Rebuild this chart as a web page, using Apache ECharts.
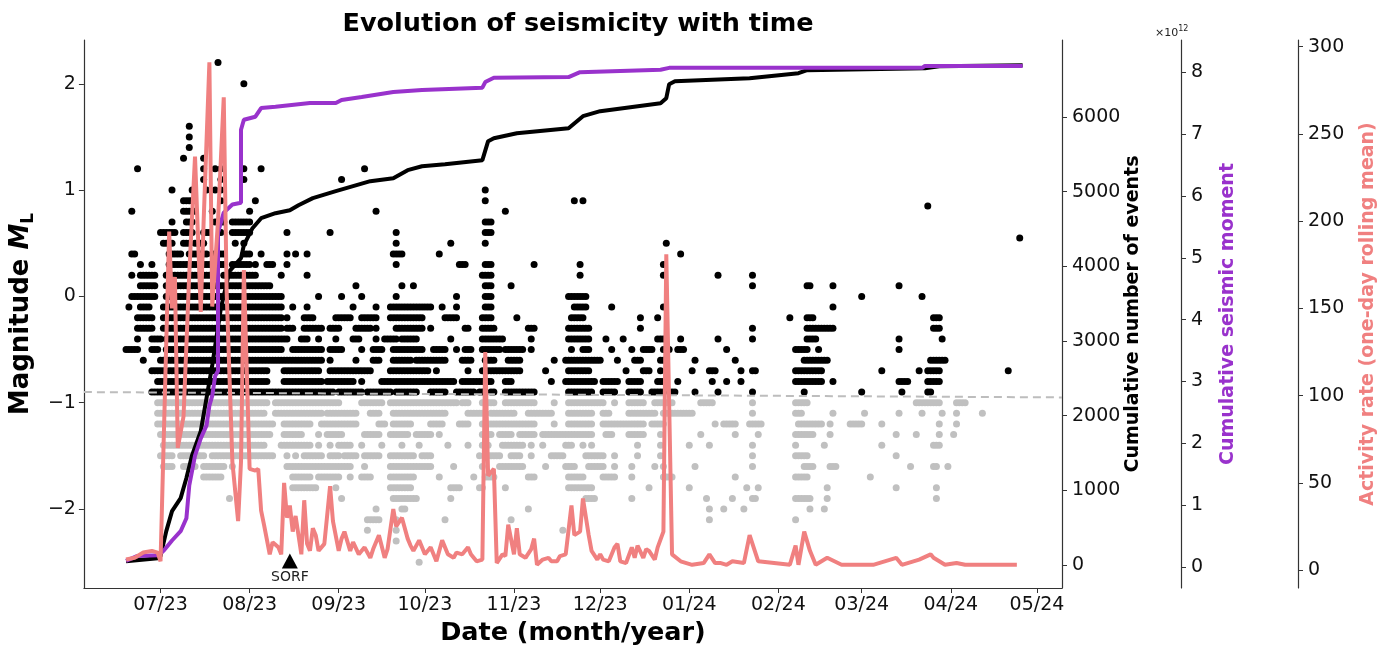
<!DOCTYPE html>
<html>
<head>
<meta charset="utf-8">
<title>Evolution of seismicity with time</title>
<script src="https://cdn.jsdelivr.net/npm/echarts@6/dist/echarts.min.js"></script>
<style>
  html, body { margin: 0; padding: 0; background: #fff; }
  #chart { width: 1392px; height: 651px; }
</style>
</head>
<body>
<div id="chart"></div>
<script>
// axis limits and ticks
var X_MIN = '2023-06-04T08:00:00Z';
var X_MAX = '2024-05-09T17:00:00Z';
var monthTicks = ['2023-07-01', '2023-08-01', '2023-09-01', '2023-10-01', '2023-11-01', '2023-12-01',
  '2024-01-01', '2024-02-01', '2024-03-01', '2024-04-01', '2024-05-01'];
var magTicks = [-2, -1, 0, 1, 2];
var countTicks = [0, 1000, 2000, 3000, 4000, 5000, 6000];
var momentTicks = [0, 1, 2, 3, 4, 5, 6, 7, 8];
var rateTicks = [0, 50, 100, 150, 200, 250, 300];

// events: [magnitude, first day, last day] runs of daily dots, days counted from DAY0
var DAY0 = '2023-07-01';
var aboveRuns = [
  [2.2,20,20],[2.0,29,29],[1.6,10,10],[1.5,10,10],[1.4,10,10],[1.3,8,8],[1.3,15,15],
  [1.2,-8,-8],[1.2,15,15],[1.2,19,19],[1.2,21,21],[1.2,29,29],[1.2,35,35],[1.2,71,71],
  [1.1,15,15],[1.1,21,21],[1.1,29,29],[1.1,63,63],
  [1.0,4,4],[1.0,11,11],[1.0,16,16],[1.0,19,19],[1.0,21,21],[1.0,113,113],
  [0.9,8,11],[0.9,21,21],[0.9,33,33],[0.9,113,113],[0.9,144,144],[0.9,147,147],[0.85,267,267],
  [0.8,-10,-10],[0.8,8,12],[0.8,18,18],[0.8,31,31],[0.8,75,75],[0.8,120,120],
  [0.7,4,4],[0.7,9,11],[0.7,19,22],[0.7,25,31],[0.7,113,115],
  [0.6,0,5],[0.6,8,11],[0.6,15,17],[0.6,21,21],[0.6,25,31],[0.6,44,44],[0.6,59,59],[0.6,82,82],[0.6,113,115],
  [0.55,299,299],
  [0.5,1,4],[0.5,8,10],[0.5,12,15],[0.5,26,26],[0.5,29,29],[0.5,82,82],[0.5,101,101],[0.5,113,113],[0.5,176,176],
  [0.4,-10,-9],[0.4,3,7],[0.4,10,16],[0.4,18,22],[0.4,29,31],[0.4,35,35],[0.4,44,44],[0.4,47,47],[0.4,51,51],
  [0.4,81,84],[0.4,97,97],[0.4,181,181],
  [0.3,-7,-7],[0.3,-3,-3],[0.3,3,17],[0.3,19,22],[0.3,25,31],[0.3,33,33],[0.3,37,39],[0.3,44,44],[0.3,82,82],
  [0.3,104,106],[0.3,113,115],[0.3,130,130],[0.3,146,146],[0.3,175,175],
  [0.2,-10,-10],[0.2,-7,-2],[0.2,2,19],[0.2,22,33],[0.2,42,42],[0.2,51,51],[0.2,112,115],[0.2,146,146],
  [0.2,175,175],[0.2,194,194],[0.2,206,206],
  [0.1,-7,-2],[0.1,2,38],[0.1,68,68],[0.1,84,84],[0.1,88,88],[0.1,113,115],[0.1,122,122],[0.1,206,206],
  [0.1,225,226],[0.1,234,234],[0.1,257,257],
  [0.0,-10,-2],[0.0,2,42],[0.0,55,55],[0.0,63,63],[0.0,70,70],[0.0,82,82],[0.0,103,103],[0.0,113,115],
  [0.0,142,148],[0.0,244,244],[0.0,265,265],
  [-0.1,-11,-11],[-0.1,-7,-4],[-0.1,1,42],[-0.1,46,46],[-0.1,51,51],[-0.1,67,67],[-0.1,75,75],[-0.1,80,94],
  [-0.1,98,98],[-0.1,103,103],[-0.1,113,115],[-0.1,144,148],[-0.1,157,157],[-0.1,175,175],[-0.1,234,234],
  [-0.2,-8,-3],[-0.2,1,42],[-0.2,44,44],[-0.2,50,53],[-0.2,61,66],[-0.2,70,75],[-0.2,80,91],[-0.2,99,103],
  [-0.2,112,115],[-0.2,124,124],[-0.2,143,147],[-0.2,167,167],[-0.2,173,173],[-0.2,219,219],[-0.2,225,227],[-0.2,269,271],
  [-0.3,-8,-3],[-0.3,1,42],[-0.3,44,46],[-0.3,50,56],[-0.3,59,62],[-0.3,68,73],[-0.3,75,75],[-0.3,82,91],[-0.3,94,94],
  [-0.3,106,107],[-0.3,112,116],[-0.3,128,130],[-0.3,142,149],[-0.3,167,167],[-0.3,206,206],[-0.3,225,234],[-0.3,269,271],
  [-0.4,-8,-8],[-0.4,-3,0],[-0.4,2,44],[-0.4,49,51],[-0.4,55,55],[-0.4,61,61],[-0.4,67,69],[-0.4,75,75],[-0.4,78,82],
  [-0.4,84,89],[-0.4,101,101],[-0.4,112,119],[-0.4,129,129],[-0.4,142,149],[-0.4,155,155],[-0.4,161,161],[-0.4,173,175],
  [-0.4,181,181],[-0.4,194,194],[-0.4,206,206],[-0.4,225,228],[-0.4,257,257],[-0.4,272,272],
  [-0.5,-12,-8],[-0.5,-3,-1],[-0.5,2,42],[-0.5,46,56],[-0.5,59,63],[-0.5,70,70],[-0.5,74,77],[-0.5,81,91],[-0.5,95,99],
  [-0.5,103,103],[-0.5,106,108],[-0.5,112,118],[-0.5,120,126],[-0.5,129,129],[-0.5,143,143],[-0.5,147,149],[-0.5,157,157],
  [-0.5,164,164],[-0.5,168,171],[-0.5,175,177],[-0.5,180,182],[-0.5,197,197],[-0.5,221,225],[-0.5,229,229],[-0.5,257,257],
  [-0.6,-6,-6],[-0.6,0,56],[-0.6,59,59],[-0.6,68,68],[-0.6,74,76],[-0.6,81,87],[-0.6,89,99],[-0.6,105,108],[-0.6,113,116],
  [-0.6,121,125],[-0.6,137,137],[-0.6,141,153],[-0.6,159,159],[-0.6,165,167],[-0.6,174,175],[-0.6,186,186],[-0.6,200,200],
  [-0.6,224,232],[-0.6,268,273],
  [-0.7,-3,1],[-0.7,3,37],[-0.7,43,55],[-0.7,59,73],[-0.7,80,93],[-0.7,96,96],[-0.7,107,107],[-0.7,112,125],[-0.7,134,134],
  [-0.7,142,149],[-0.7,162,162],[-0.7,168,170],[-0.7,174,174],[-0.7,185,185],[-0.7,191,193],[-0.7,202,202],[-0.7,206,207],
  [-0.7,221,230],[-0.7,251,251],[-0.7,264,264],[-0.7,267,271],[-0.7,295,295],
  [-0.8,-1,37],[-0.8,43,56],[-0.8,58,67],[-0.8,70,70],[-0.8,77,102],[-0.8,105,112],[-0.8,114,115],[-0.8,120,122],
  [-0.8,136,136],[-0.8,141,151],[-0.8,154,159],[-0.8,163,167],[-0.8,173,175],[-0.8,180,180],[-0.8,192,192],[-0.8,197,197],
  [-0.8,202,202],[-0.8,221,230],[-0.8,234,234],[-0.8,257,260],[-0.8,267,271],
  [-0.9,-3,60],[-0.9,62,70],[-0.9,72,80],[-0.9,82,89],[-0.9,94,99],[-0.9,103,109],[-0.9,111,113],[-0.9,115,116],
  [-0.9,120,130],[-0.9,142,150],[-0.9,154,158],[-0.9,163,167],[-0.9,171,175],[-0.9,178,179],[-0.9,186,186],[-0.9,194,194],
  [-0.9,206,206],[-0.9,224,224],[-0.9,244,244],[-0.9,258,258],[-0.9,267,268]
];
var belowRuns = [
  [-1.0,-1,37],[-1.0,40,62],[-1.0,70,77],[-1.0,80,103],[-1.0,105,107],[-1.0,112,116],[-1.0,120,130],[-1.0,137,137],
  [-1.0,142,154],[-1.0,158,158],[-1.0,163,168],[-1.0,172,178],[-1.0,188,192],[-1.0,206,206],[-1.0,221,225],[-1.0,263,271],[-1.0,277,280],
  [-1.1,-1,36],[-1.1,40,56],[-1.1,58,68],[-1.1,73,76],[-1.1,81,99],[-1.1,107,112],[-1.1,115,123],[-1.1,128,136],[-1.1,142,150],
  [-1.1,154,156],[-1.1,163,172],[-1.1,175,185],[-1.1,206,206],[-1.1,221,223],[-1.1,234,234],[-1.1,245,245],[-1.1,257,257],
  [-1.1,265,265],[-1.1,272,272],[-1.1,277,277],[-1.1,286,286],
  [-1.2,-1,39],[-1.2,43,52],[-1.2,56,68],[-1.2,76,78],[-1.2,81,87],[-1.2,94,98],[-1.2,104,107],[-1.2,112,130],[-1.2,137,137],
  [-1.2,142,150],[-1.2,154,168],[-1.2,171,175],[-1.2,193,193],[-1.2,196,200],[-1.2,205,209],[-1.2,222,230],[-1.2,233,233],
  [-1.2,240,244],[-1.2,251,251],[-1.2,271,271],[-1.2,277,277],
  [-1.3,0,38],[-1.3,43,49],[-1.3,55,55],[-1.3,58,63],[-1.3,71,76],[-1.3,80,86],[-1.3,89,94],[-1.3,97,97],[-1.3,112,115],
  [-1.3,118,122],[-1.3,125,130],[-1.3,133,150],[-1.3,155,157],[-1.3,163,168],[-1.3,174,174],[-1.3,188,188],[-1.3,200,200],
  [-1.3,208,208],[-1.3,221,227],[-1.3,233,233],[-1.3,256,256],[-1.3,263,263],[-1.3,271,271],[-1.3,276,276],
  [-1.4,1,36],[-1.4,42,52],[-1.4,55,55],[-1.4,59,59],[-1.4,62,66],[-1.4,70,70],[-1.4,77,77],[-1.4,84,84],[-1.4,90,90],
  [-1.4,100,100],[-1.4,107,107],[-1.4,112,114],[-1.4,119,126],[-1.4,129,129],[-1.4,133,133],[-1.4,141,143],[-1.4,147,147],
  [-1.4,150,150],[-1.4,166,166],[-1.4,174,174],[-1.4,184,184],[-1.4,191,191],[-1.4,206,206],[-1.4,221,221],[-1.4,231,231],
  [-1.4,251,251],[-1.4,269,271],
  [-1.5,0,4],[-1.5,7,15],[-1.5,18,39],[-1.5,44,44],[-1.5,47,47],[-1.5,50,56],[-1.5,59,62],[-1.5,64,68],[-1.5,71,76],
  [-1.5,80,88],[-1.5,91,94],[-1.5,111,111],[-1.5,114,118],[-1.5,122,125],[-1.5,129,129],[-1.5,136,140],[-1.5,148,154],
  [-1.5,158,158],[-1.5,166,166],[-1.5,174,174],[-1.5,206,206],[-1.5,221,225],[-1.5,256,256],
  [-1.6,1,4],[-1.6,8,12],[-1.6,15,22],[-1.6,25,25],[-1.6,44,66],[-1.6,71,71],[-1.6,80,94],[-1.6,102,102],[-1.6,112,112],
  [-1.6,118,126],[-1.6,134,134],[-1.6,141,144],[-1.6,149,154],[-1.6,158,158],[-1.6,164,164],[-1.6,172,172],[-1.6,175,175],
  [-1.6,186,186],[-1.6,206,206],[-1.6,224,227],[-1.6,233,235],[-1.6,261,261],[-1.6,269,270],[-1.6,274,274],
  [-1.7,15,21],[-1.7,46,52],[-1.7,55,62],[-1.7,66,66],[-1.7,70,73],[-1.7,80,88],[-1.7,97,97],[-1.7,109,109],[-1.7,113,116],
  [-1.7,128,130],[-1.7,142,147],[-1.7,154,158],[-1.7,164,164],[-1.7,175,178],[-1.7,200,200],[-1.7,221,225],[-1.7,247,247],
  [-1.8,46,54],[-1.8,61,61],[-1.8,80,87],[-1.8,101,104],[-1.8,111,112],[-1.8,120,120],[-1.8,142,150],[-1.8,170,170],
  [-1.8,184,184],[-1.8,204,204],[-1.8,208,208],[-1.8,232,232],[-1.8,256,256],[-1.8,270,270],
  [-1.9,24,24],[-1.9,63,63],[-1.9,81,89],[-1.9,101,101],[-1.9,148,151],[-1.9,164,164],[-1.9,190,190],[-1.9,199,199],
  [-1.9,206,207],[-1.9,221,226],[-1.9,232,232],[-1.9,270,270],
  [-2.0,75,75],[-2.0,84,85],[-2.0,128,128],[-2.0,191,191],[-2.0,196,196],[-2.0,203,203],[-2.0,226,226],[-2.0,231,231],
  [-2.1,72,76],[-2.1,82,82],[-2.1,99,99],[-2.1,122,122],[-2.1,191,191],[-2.1,221,221],
  [-2.2,72,72],[-2.2,82,82],[-2.2,140,140],
  [-2.3,82,82],
  [-2.5,90,90]
];

// completeness magnitude (dashed)
var completenessLine = [[X_MIN, -0.90], [X_MAX, -0.95]];

// cumulative number of events
var cumCount = [
  ['2023-06-19',50],['2023-06-30',90],['2023-07-01',120],['2023-07-03',455],['2023-07-05',723],['2023-07-08',897],
  ['2023-07-10',1165],['2023-07-12',1473],['2023-07-15',1794],['2023-07-17',2236],['2023-07-19',2677],['2023-07-22',3440],
  ['2023-07-25',3936],['2023-07-29',4110],['2023-07-30',4284],['2023-08-02',4511],['2023-08-05',4645],['2023-08-10',4712],
  ['2023-08-15',4752],['2023-08-18',4819],['2023-08-23',4913],['2023-08-31',5007],['2023-09-12',5141],['2023-09-20',5181],
  ['2023-09-25',5288],['2023-09-30',5341],['2023-10-08',5368],['2023-10-21',5422],['2023-10-23',5676],['2023-10-25',5716],
  ['2023-11-02',5783],['2023-11-20',5850],['2023-11-25',6011],['2023-12-01',6078],['2023-12-22',6185],['2023-12-24',6252],
  ['2023-12-25',6439],['2023-12-27',6479],['2024-01-22',6519],['2024-02-08',6586],['2024-02-11',6627],['2024-03-23',6653],
  ['2024-03-28',6680],['2024-04-26',6693]
];

// cumulative seismic moment (x 10^12)
var cumMoment = [
  ['2023-06-19',0.10],['2023-06-23',0.18],['2023-06-30',0.19],['2023-07-02',0.26],['2023-07-05',0.43],['2023-07-08',0.58],
  ['2023-07-10',0.79],['2023-07-11',1.32],['2023-07-13',1.80],['2023-07-15',2.08],['2023-07-17',2.29],['2023-07-18',2.61],
  ['2023-07-19',2.77],['2023-07-20',3.09],['2023-07-21',3.17],['2023-07-21',5.41],['2023-07-23',5.73],['2023-07-26',5.86],
  ['2023-07-29',5.89],['2023-07-29',7.07],['2023-07-30',7.23],['2023-08-03',7.28],['2023-08-05',7.42],['2023-08-10',7.44],
  ['2023-08-22',7.50],['2023-08-31',7.50],['2023-09-02',7.55],['2023-09-09',7.60],['2023-09-20',7.68],['2023-09-30',7.71],
  ['2023-10-21',7.75],['2023-10-22',7.84],['2023-10-25',7.91],['2023-11-20',7.92],['2023-11-24',8.00],['2023-12-22',8.04],
  ['2023-12-25',8.07],['2024-03-22',8.07],['2024-03-23',8.10],['2024-04-26',8.10]
];

// activity rate (one-day rolling mean)
var activityRate = [
  ['2023-06-19',6],['2023-06-22',7],['2023-06-25',10],['2023-06-28',11],['2023-06-30',10],['2023-07-01',5],
  ['2023-07-04',194],['2023-07-05',150],['2023-07-06',168],['2023-07-07',70],['2023-07-09',88],['2023-07-11',170],
  ['2023-07-13',237],['2023-07-15',148],['2023-07-16',200],['2023-07-18',291],['2023-07-19',151],['2023-07-21',200],
  ['2023-07-23',271],['2023-07-24',160],['2023-07-26',62],['2023-07-28',28],['2023-07-29',62],['2023-07-30',172],
  ['2023-08-01',58],['2023-08-03',57],['2023-08-04',58],['2023-08-05',34],['2023-08-06',26],['2023-08-08',9],
  ['2023-08-09',16],['2023-08-11',13],['2023-08-12',9],['2023-08-13',50],['2023-08-14',30],['2023-08-15',37],
  ['2023-08-16',22],['2023-08-17',31],['2023-08-19',9],['2023-08-20',40],['2023-08-21',15],['2023-08-22',11],
  ['2023-08-23',24],['2023-08-24',20],['2023-08-25',11],['2023-08-27',15],['2023-08-29',48],['2023-08-30',28],
  ['2023-09-01',11],['2023-09-02',18],['2023-09-03',22],['2023-09-05',11],['2023-09-06',16],['2023-09-08',9],
  ['2023-09-10',13],['2023-09-12',7],['2023-09-13',12],['2023-09-15',20],['2023-09-17',7],['2023-09-18',12],
  ['2023-09-20',35],['2023-09-21',25],['2023-09-23',30],['2023-09-25',18],['2023-09-26',14],['2023-09-27',11],
  ['2023-09-29',17],['2023-10-01',9],['2023-10-03',13],['2023-10-05',5],['2023-10-07',17],['2023-10-09',9],
  ['2023-10-11',7],['2023-10-12',10],['2023-10-14',9],['2023-10-16',13],['2023-10-17',9],['2023-10-19',5],
  ['2023-10-21',6],['2023-10-22',125],['2023-10-23',54],['2023-10-25',58],['2023-10-26',4],['2023-10-28',9],
  ['2023-10-29',8],['2023-10-30',26],['2023-11-01',9],['2023-11-02',24],['2023-11-03',9],['2023-11-05',7],
  ['2023-11-07',12],['2023-11-08',18],['2023-11-09',3],['2023-11-11',6],['2023-11-13',7],['2023-11-14',5],
  ['2023-11-16',5],['2023-11-17',8],['2023-11-19',9],['2023-11-21',37],['2023-11-22',20],['2023-11-24',22],
  ['2023-11-25',41],['2023-11-27',20],['2023-11-28',11],['2023-11-30',6],['2023-12-01',9],['2023-12-02',6],
  ['2023-12-04',5],['2023-12-06',13],['2023-12-07',15],['2023-12-08',5],['2023-12-10',4],['2023-12-12',13],
  ['2023-12-13',7],['2023-12-14',14],['2023-12-16',7],['2023-12-17',12],['2023-12-18',11],['2023-12-20',6],
  ['2023-12-21',13],['2023-12-23',22],['2023-12-24',181],['2023-12-26',9],['2023-12-29',5],['2024-01-02',3],
  ['2024-01-06',4],['2024-01-08',9],['2024-01-10',4],['2024-01-12',4],['2024-01-14',3],['2024-01-16',5],
  ['2024-01-20',4],['2024-01-22',20],['2024-01-25',5],['2024-02-05',3],['2024-02-07',14],['2024-02-08',3],
  ['2024-02-10',22],['2024-02-12',11],['2024-02-14',3],['2024-02-18',7],['2024-02-23',3],['2024-03-05',3],
  ['2024-03-07',4],['2024-03-13',7],['2024-03-15',3],['2024-03-21',6],['2024-03-25',9],['2024-03-26',7],
  ['2024-03-30',3],['2024-04-03',4],['2024-04-06',3],['2024-04-24',3]
];

var sorfMarker = [['2023-08-15', -2.49]];

var FONT = 'DejaVu Sans';
var AXIS_COLOR = '#333';
var DAY_MS = 86400000;
var t0 = Date.parse(DAY0);

function runsToPoints(runs) {
  var out = [];
  runs.forEach(function (r) {
    for (var d = r[1]; d <= r[2]; d++) out.push([t0 + d * DAY_MS, r[0]]);
  });
  return out;
}
function datePairs(arr) {
  return arr.map(function (p) { return [Date.parse(p[0]), p[1]]; });
}
function minus(v) { return v < 0 ? '\u2212' + (-v) : String(v); }
function pad(n) { return n < 10 ? '0' + n : '' + n; }

var monthValues = monthTicks.map(function (d) { return Date.parse(d); });

function rightAxis(name, color, min, max, ticks, offset, gap) {
  return {
    type: 'value', position: 'right', offset: offset, min: min, max: max,
    name: name, nameLocation: 'middle', nameRotate: 90, nameGap: gap, nameMoveOverlap: false,
    nameTextStyle: { fontFamily: FONT, fontSize: 19, fontWeight: 'bold', color: color },
    axisLine: { show: true, lineStyle: { color: AXIS_COLOR, width: 1.2 } },
    axisTick: { show: true, length: 5, customValues: ticks, lineStyle: { color: AXIS_COLOR } },
    axisLabel: {
      customValues: ticks, margin: 10, fontFamily: FONT, fontSize: 19, color: '#111',
      formatter: function (v) { return String(v); }
    },
    splitLine: { show: false }
  };
}

var chart = echarts.init(document.getElementById('chart'));
chart.setOption({
  animation: false,
  backgroundColor: '#fff',
  title: {
    text: 'Evolution of seismicity with time', left: 573, top: 6, textAlign: 'center',
    textStyle: { fontFamily: FONT, fontSize: 25.5, fontWeight: 'bold', color: '#000' }
  },
  grid: { left: 80, right: 330, top: 40, bottom: 61 },
  xAxis: {
    type: 'value', min: Date.parse(X_MIN), max: Date.parse(X_MAX),
    name: 'Date (month/year)', nameLocation: 'middle', nameGap: 32,
    nameTextStyle: { fontFamily: FONT, fontSize: 25.5, fontWeight: 'bold', color: '#000' },
    axisLine: { show: true, onZero: false, lineStyle: { color: AXIS_COLOR, width: 1.2 } },
    axisTick: { show: true, length: 5, customValues: monthValues, lineStyle: { color: AXIS_COLOR } },
    axisLabel: {
      customValues: monthValues, margin: 8, fontFamily: FONT, fontSize: 19, color: '#111',
      formatter: function (v) {
        var d = new Date(v);
        return pad(d.getUTCMonth() + 1) + '/' + pad(d.getUTCFullYear() % 100);
      }
    },
    splitLine: { show: false }
  },
  yAxis: [
    {
      type: 'value', position: 'left', min: -2.743, max: 2.412,
      name: '{t|Magnitude }{i|M}{s|L}', nameLocation: 'middle', nameRotate: 90, nameGap: 32,
      nameTextStyle: {
        fontFamily: FONT, fontSize: 26, fontWeight: 'bold', color: '#000',
        rich: {
          t: { fontFamily: FONT, fontSize: 26, fontWeight: 'bold', lineHeight: 32, verticalAlign: 'middle' },
          i: { fontFamily: FONT, fontSize: 26, fontWeight: 'bold', fontStyle: 'italic', lineHeight: 32, verticalAlign: 'middle' },
          s: { fontFamily: FONT, fontSize: 17, fontWeight: 'bold', lineHeight: 17, verticalAlign: 'bottom' }
        }
      },
      axisLine: { show: true, onZero: false, lineStyle: { color: AXIS_COLOR, width: 1.2 } },
      axisTick: { show: true, length: 5, customValues: magTicks, lineStyle: { color: AXIS_COLOR } },
      axisLabel: { customValues: magTicks, margin: 8, fontFamily: FONT, fontSize: 19, color: '#111', formatter: minus },
      splitLine: { show: false }
    },
    rightAxis('Cumulative number of events', '#000', -307, 7031, countTicks, 0, 62),
    rightAxis('Cumulative seismic moment', '#9932CC', -0.338, 8.52, momentTicks, 119, 38),
    rightAxis('Activity rate (one-day rolling mean)', '#F08080', -10.3, 303.8, rateTicks, 236, 61)
  ],
  graphic: [{
    type: 'text', left: 1155, top: 25,
    style: {
      text: '{a|\u00d710}{b|12}', fill: '#222',
      rich: {
        a: { fontFamily: FONT, fontSize: 11, lineHeight: 14, verticalAlign: 'bottom' },
        b: { fontFamily: FONT, fontSize: 8, lineHeight: 14, verticalAlign: 'top' }
      }
    }
  }],
  series: [
    {
      type: 'scatter', yAxisIndex: 0, data: runsToPoints(belowRuns), symbolSize: 7, silent: true,
      itemStyle: { color: '#c0c0c0', opacity: 1 }, z: 1
    },
    {
      type: 'scatter', yAxisIndex: 0, data: runsToPoints(aboveRuns), symbolSize: 7, silent: true,
      itemStyle: { color: '#000', opacity: 1 }, z: 2
    },
    {
      type: 'line', yAxisIndex: 0, data: datePairs(completenessLine), symbol: 'none', silent: true,
      lineStyle: { color: '#bdbdbd', width: 2, type: [8, 5] }, z: 3
    },
    {
      type: 'line', yAxisIndex: 1, data: datePairs(cumCount), symbol: 'none', silent: true,
      lineStyle: { color: '#000', width: 4 }, z: 4
    },
    {
      type: 'line', yAxisIndex: 2, data: datePairs(cumMoment), symbol: 'none', silent: true,
      lineStyle: { color: '#9932CC', width: 4 }, z: 5
    },
    {
      type: 'line', yAxisIndex: 3, data: datePairs(activityRate), symbol: 'none', silent: true,
      lineStyle: { color: '#F08080', width: 4 }, z: 6
    },
    {
      type: 'scatter', yAxisIndex: 0, data: datePairs(sorfMarker), symbol: 'triangle', symbolSize: [16, 15],
      itemStyle: { color: '#000', opacity: 1 }, silent: true, z: 7,
      label: { show: true, position: 'bottom', distance: 2, formatter: 'SORF', fontFamily: FONT, fontSize: 14, color: '#222' }
    }
  ]
});
</script>
</body>
</html>
